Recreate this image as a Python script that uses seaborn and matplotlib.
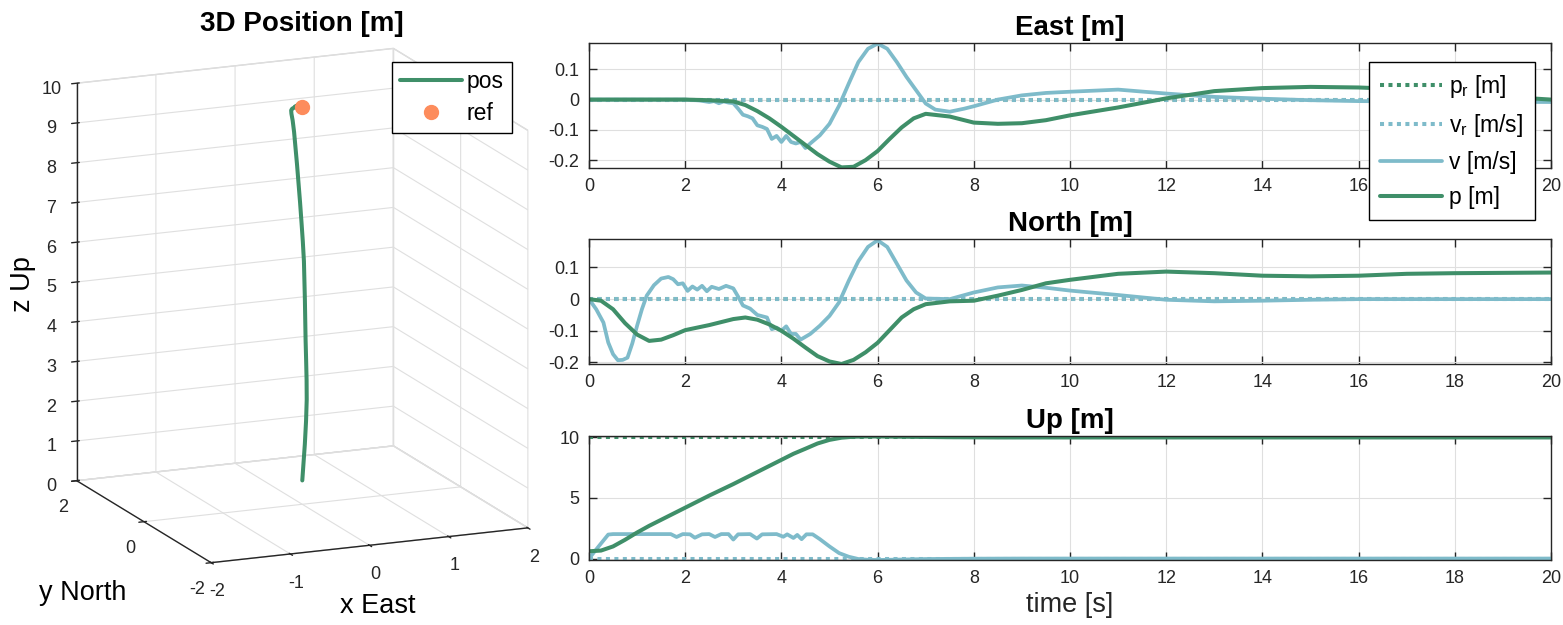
import matplotlib
matplotlib.use('Agg')
import matplotlib.pyplot as plt
import seaborn as sns
from matplotlib.ticker import FuncFormatter
from mpl_toolkits.mplot3d import proj3d

# ---- data ----
# position traces share one time base (also used for the 3D path)
t_p = [0, 0.25, 0.5, 0.75, 1.0, 1.25, 1.5, 1.75, 2.0, 2.5, 3.0, 3.25, 3.5, 3.75,
       4.0, 4.25, 4.5, 4.75, 5.0, 5.25, 5.5, 5.75, 6.0, 6.25, 6.5, 6.75, 7.0,
       7.5, 8.0, 8.5, 9.0, 9.5, 10, 11, 12, 13, 14, 15, 16, 17, 18, 19, 20]
east_p = [0, 0, 0, 0, 0, 0, 0, 0, 0, -0.002, -0.006, -0.018, -0.038, -0.062,
          -0.09, -0.12, -0.15, -0.18, -0.205, -0.224, -0.222, -0.2, -0.17, -0.13,
          -0.092, -0.062, -0.047, -0.056, -0.076, -0.08, -0.078, -0.068, -0.052,
          -0.026, 0.004, 0.028, 0.038, 0.042, 0.04, 0.034, 0.024, 0.01, 0.0]
north_p = [0, -0.005, -0.032, -0.076, -0.112, -0.132, -0.128, -0.114, -0.098,
           -0.082, -0.063, -0.058, -0.065, -0.08, -0.1, -0.125, -0.153, -0.18,
           -0.197, -0.205, -0.192, -0.168, -0.138, -0.098, -0.058, -0.032, -0.016,
           -0.007, -0.005, 0.011, 0.029, 0.05, 0.061, 0.08, 0.087, 0.082, 0.074,
           0.072, 0.074, 0.08, 0.082, 0.083, 0.084]
up_p = [0.6, 0.66, 1.0, 1.55, 2.15, 2.7, 3.2, 3.7, 4.2, 5.2, 6.15, 6.65, 7.15,
        7.65, 8.15, 8.65, 9.07, 9.5, 9.8, 9.98, 10.06, 10.08, 10.08, 10.07, 10.06,
        10.05, 10.04, 10.02, 10.01, 10.0, 10.0, 10.0, 10.0, 10.0, 10.0, 10.0, 10.0,
        10.0, 10.0, 10.0, 10.0, 10.0, 10.0]

t_east_v = [0, 2.0, 2.3, 2.5, 2.6, 2.7, 2.8, 2.9, 3.0, 3.1, 3.2, 3.3, 3.4, 3.5,
            3.6, 3.7, 3.8, 3.9, 4.0, 4.1, 4.2, 4.3, 4.4, 4.5, 4.6, 4.8, 5.0, 5.2,
            5.4, 5.6, 5.8, 6.0, 6.2, 6.4, 6.6, 6.8, 7.0, 7.2, 7.5, 7.8, 8.0, 8.5,
            9.0, 9.5, 10, 11, 12, 13, 14, 15, 16, 17, 18, 20]
east_v = [0, 0, -0.003, -0.008, -0.005, -0.012, -0.006, -0.01, -0.012, -0.03,
          -0.05, -0.055, -0.062, -0.085, -0.09, -0.097, -0.13, -0.12, -0.14,
          -0.12, -0.14, -0.145, -0.14, -0.16, -0.145, -0.118, -0.08, -0.02, 0.053,
          0.124, 0.168, 0.185, 0.168, 0.124, 0.075, 0.031, -0.013, -0.033, -0.04,
          -0.03, -0.022, 0.0, 0.014, 0.022, 0.026, 0.033, 0.02, 0.009, 0.003,
          -0.002, -0.005, -0.006, -0.007, -0.008]

t_north_v = [0, 0.15, 0.3, 0.4, 0.5, 0.6, 0.7, 0.8, 0.9, 1.0, 1.1, 1.2, 1.35, 1.5,
             1.65, 1.75, 1.85, 1.95, 2.05, 2.15, 2.25, 2.35, 2.45, 2.55, 2.7, 2.85,
             3.0, 3.1, 3.2, 3.35, 3.5, 3.7, 3.8, 3.9, 4.0, 4.1, 4.2, 4.3, 4.4, 4.6,
             4.8, 5.0, 5.2, 5.4, 5.6, 5.8, 6.0, 6.2, 6.4, 6.6, 6.8, 7.0, 7.5, 8.0,
             8.5, 9.0, 9.5, 10, 11, 12, 13, 14, 15, 16, 20]
north_v = [0, -0.032, -0.074, -0.137, -0.174, -0.193, -0.192, -0.185, -0.14,
           -0.084, -0.032, 0.011, 0.044, 0.065, 0.07, 0.063, 0.047, 0.05, 0.026,
           0.04, 0.03, 0.042, 0.025, 0.039, 0.032, 0.042, 0.034, 0.008, -0.02,
           -0.03, -0.05, -0.058, -0.095, -0.09, -0.1, -0.086, -0.11, -0.11, -0.128,
           -0.11, -0.084, -0.053, -0.01, 0.058, 0.12, 0.165, 0.186, 0.165, 0.112,
           0.059, 0.021, 0.002, 0.0, 0.021, 0.037, 0.043, 0.036, 0.027, 0.013,
           -0.002, -0.007, -0.005, -0.002, 0.0, 0.0]

t_up_v = [0, 0.2, 0.4, 0.5, 1.0, 1.7, 1.82, 1.95, 2.1, 2.2, 2.35, 2.5, 2.62, 2.75,
          2.9, 3.0, 3.1, 3.35, 3.49, 3.6, 3.9, 4.04, 4.12, 4.25, 4.33, 4.42, 4.52,
          4.65, 4.8, 5.0, 5.2, 5.4, 5.6, 5.8, 6.0, 6.5, 7.0, 8.0, 9.0, 20]
up_v = [0.0, 1.0, 1.98, 2.02, 2.02, 2.02, 1.78, 2.02, 2.0, 1.72, 2.0, 2.02, 1.78,
        2.02, 2.02, 1.57, 2.0, 2.02, 1.65, 2.0, 2.02, 1.8, 2.0, 1.7, 1.95, 1.6,
        2.0, 2.0, 1.6, 1.0, 0.45, 0.15, -0.04, -0.1, -0.12, -0.08, -0.04, -0.01,
        0.0, 0.0]

# references (constant set points)
t_ref = [0, 20]
east_pr, east_vr = [0, 0], [0, 0]
north_pr, north_vr = [0, 0], [0, 0]
up_pr, up_vr = [10, 10], [0, 0]
ref_pos = [0, 0, 10]

# ---- style ----
sns.set_style('ticks')
plt.rcParams.update({
    'axes.edgecolor': '#262626', 'axes.linewidth': 1.0,
    'xtick.direction': 'in', 'ytick.direction': 'in',
    'xtick.top': True, 'ytick.right': True,
    'xtick.major.size': 6, 'ytick.major.size': 6,
    'xtick.major.width': 1.0, 'ytick.major.width': 1.0,
    'xtick.color': '#262626', 'ytick.color': '#262626',
    'grid.color': '#DFDFDF', 'grid.linewidth': 0.8,
    'axes.unicode_minus': False, 'mathtext.default': 'regular',
    'text.color': '#000000',
})
plt.rcParams['font.family'] = ['Liberation Sans', 'DejaVu Sans']

P_COLOR = '#3F8F69'
V_COLOR = '#7EBBCA'
REF_COLOR = '#FD8C5C'
DOT = (0, (1.0, 1.1))
LW_P, LW_V, LW_R = 2.9, 2.7, 2.9

W, H = 1563, 625
fig = plt.figure(figsize=(W / 100, H / 100), dpi=100)


def rect(l, t, r, b):
    return [l / W, 1 - b / H, (r - l) / W, (b - t) / H]


# ---- 3D position ----
side0, cx0, cy0 = 520, 300, 310
ax3 = fig.add_axes(rect(cx0 - side0 / 2, cy0 - side0 / 2, cx0 + side0 / 2, cy0 + side0 / 2),
                   projection='3d', proj_type='ortho')
ax3.patch.set_alpha(0)
ax3.view_init(elev=15, azim=-113)
ax3.set_box_aspect((1, 1, 1.196))
ax3.plot(east_p, north_p, up_p, color=P_COLOR, lw=LW_P, label='pos')
ax3.plot([ref_pos[0]], [ref_pos[1]], [ref_pos[2]], 'o', color=REF_COLOR, ms=10,
         label='ref')
ax3.set_xlim(-2, 2)
ax3.set_ylim(-2, 2)
ax3.set_zlim(0, 10)
ax3.set_xticks([-2, -1, 0, 1, 2])
ax3.set_yticks([-2, 0, 2])
ax3.set_zticks(range(0, 11))
for axis in (ax3.xaxis, ax3.yaxis, ax3.zaxis):
    axis.set_tick_params(labelsize=13, pad=2)
    axis.set_pane_color((1, 1, 1, 1))
    axis.pane.set_edgecolor('#D5D5D5')
    axis.line.set_color('#262626')
    axis.line.set_linewidth(1.0)
    axis._axinfo['grid'].update(color='#DFDFDF', linewidth=0.8)
ax3.zaxis.set_tick_params(pad=5)
ax3.legend(loc='upper right', bbox_to_anchor=(511.7 / W, 1 - 61.7 / H),
           bbox_transform=fig.transFigure, fontsize=16.5, frameon=True,
           fancybox=False, edgecolor='#000000', framealpha=1,
           handlelength=2.7, handletextpad=0.2, borderaxespad=0,
           labelspacing=0.4, borderpad=0.35)

# fit the cube onto the reference pixel positions
fig.canvas.draw()


def to_px(x, y, z):
    xs, ys, _ = proj3d.proj_transform(x, y, z, ax3.get_proj())
    px, py = ax3.transData.transform((xs, ys))
    return px, H - py


a = to_px(-2, 2, 0)
r = to_px(2, -2, 0)
top = to_px(-2, 2, 10)
f = to_px(-2, -2, 0)
k = 0.5 * ((528.3 - 76.7) / (r[0] - a[0]) + (561.7 - 82.7) / (f[1] - top[1]))
side1 = side0 * k
cx1 = 76.7 - (a[0] - cx0) * k
cy1 = 480.7 - (a[1] - cy0) * k
ax3.set_position(rect(cx1 - side1 / 2, cy1 - side1 / 2, cx1 + side1 / 2, cy1 + side1 / 2))

fig.text(302 / W, 1 - 24 / H, '3D Position [m]', ha='center', va='center',
         fontsize=20, fontweight='bold')
fig.text(378 / W, 1 - 606 / H, 'x East', ha='center', va='center', fontsize=19.5)
fig.text(83 / W, 1 - 593 / H, 'y North', ha='center', va='center', fontsize=19.5)
fig.text(23 / W, 1 - 284 / H, 'z Up', ha='center', va='center', fontsize=19.5,
         rotation=90)

# ---- time histories ----
panels = [
    ('East [m]', (43, 168), east_p, t_east_v, east_v, east_pr, east_vr,
     (-0.226, 0.187), [-0.2, -0.1, 0, 0.1]),
    ('North [m]', (239, 364), north_p, t_north_v, north_v, north_pr, north_vr,
     (-0.205, 0.19), [-0.2, -0.1, 0, 0.1]),
    ('Up [m]', (436, 560), up_p, t_up_v, up_v, up_pr, up_vr,
     (-0.12, 10.12), [0, 5, 10]),
]

fmt = FuncFormatter(lambda v, pos: f'{v:g}')
for i, (title, (top_px, bot_px), p, t_v, v, pr, vr, ylim, yticks) in enumerate(panels):
    ax = fig.add_axes(rect(589, top_px, 1551, bot_px))
    first = i == 0
    sns.lineplot(x=t_ref, y=pr, ax=ax, color=P_COLOR, lw=LW_R, linestyle=DOT,
                 dash_capstyle='butt', estimator=None, legend=False,
                 label='$p_r$ [m]' if first else None)
    sns.lineplot(x=t_ref, y=vr, ax=ax, color=V_COLOR, lw=LW_R, linestyle=DOT,
                 dash_capstyle='butt', estimator=None, legend=False,
                 label='$v_r$ [m/s]' if first else None)
    sns.lineplot(x=t_v, y=v, ax=ax, color=V_COLOR, lw=LW_V, estimator=None,
                 legend=False, label='v [m/s]' if first else None)
    sns.lineplot(x=t_p, y=p, ax=ax, color=P_COLOR, lw=LW_P, estimator=None,
                 legend=False, label='p [m]' if first else None)
    ax.set_xlim(0, 20)
    ax.set_ylim(*ylim)
    ax.set_xticks(range(0, 21, 2))
    ax.set_yticks(yticks)
    ax.yaxis.set_major_formatter(fmt)
    ax.tick_params(labelsize=13, pad=7)
    ax.grid(True)
    ax.set_title(title, fontsize=20, fontweight='bold', pad=6)
    if first:
        ax.legend(loc='upper right', bbox_to_anchor=(0.983, 0.85), fontsize=16.5,
                  frameon=True, fancybox=False, edgecolor='#000000', framealpha=1,
                  handlelength=2.7, handletextpad=0.3, borderaxespad=0,
                  labelspacing=0.52, borderpad=0.5)
    if i == 2:
        ax.set_xlabel('time [s]', fontsize=19.5, labelpad=4)

fig.savefig('out.png', dpi=100)
